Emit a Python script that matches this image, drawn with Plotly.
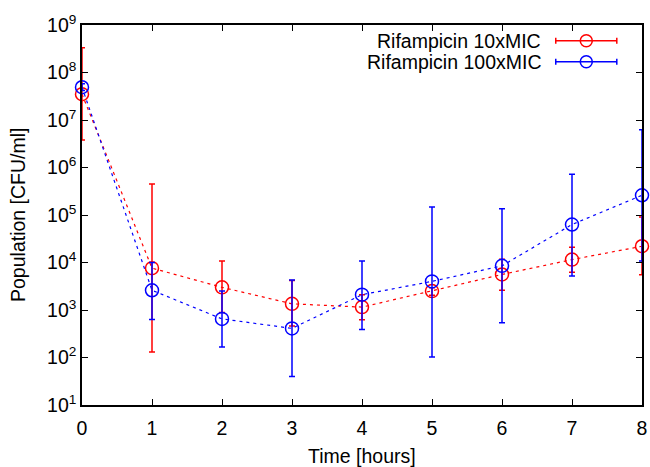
import plotly.graph_objects as go

# ---- data ----
time_h = [0, 1, 2, 3, 4, 5, 6, 7, 8]

rif10_label = "Rifampicin 10xMIC"
rif10_mean = [3.5e7, 7.6e3, 3.0e3, 1.35e3, 1.15e3, 2.5e3, 5.6e3, 1.15e4, 2.2e4]
rif10_upper = [3.3e8, 4.5e5, 1.07e4, 4.2e3, 2.1e3, 2.95e3, 1.17e4, 2.1e4, 9.1e4]
rif10_lower = [3.8e6, 1.3e2, 8.9e2, 4.6e2, 6.2e2, 2.05e3, 2.6e3, 6.2e3, 5.5e3]

rif100_label = "Rifampicin 100xMIC"
rif100_mean = [4.9e7, 2.6e3, 6.5e2, 4.1e2, 2.1e3, 4.0e3, 8.5e3, 6.3e4, 2.6e5]
rif100_upper = [5.8e7, 1.0e4, 2.5e3, 4.3e3, 1.07e4, 1.48e5, 1.35e5, 7.2e5, 6.2e6]
rif100_lower = [4.2e7, 6.3e2, 1.66e2, 40, 3.9e2, 1.02e2, 5.4e2, 5.2e3, 1.07e4]

y_exponents = [1, 2, 3, 4, 5, 6, 7, 8, 9]
x_ticks = [0, 1, 2, 3, 4, 5, 6, 7, 8]

x_title = "Time [hours]"
y_title = "Population [CFU/ml]"

FONT = "Liberation Sans, Arial, Helvetica, sans-serif"
FS = 19.5

series = [
    (rif10_label, rif10_mean, rif10_upper, rif10_lower, "#ff0000"),
    (rif100_label, rif100_mean, rif100_upper, rif100_lower, "#0000ff"),
]

fig = go.Figure()
for name, mean, up, lo, col in series:
    plus = [u - m for u, m in zip(up, mean)]
    minus = [m - l for m, l in zip(mean, lo)]
    fig.add_trace(go.Scatter(
        x=time_h, y=mean, name=name, mode="lines+markers",
        line=dict(color=col, width=1.2, dash="3px,4px"),
        marker=dict(symbol="circle-open", size=13, color=col, line=dict(width=1.5, color=col)),
        error_y=dict(type="data", symmetric=False, array=plus, arrayminus=minus,
                     color=col, thickness=1.5, width=3),
        cliponaxis=False, showlegend=False,
    ))

# legend key (gnuplot style: text on the left, sample with error bar on the right)
leg_rows = [0.9587, 0.9034]
for (name, mean, up, lo, col), yk in zip(series, leg_rows):
    fig.add_trace(go.Scatter(
        x=[0.9005], y=[yk], xaxis="x2", yaxis="y2", mode="markers",
        marker=dict(symbol="circle-open", size=12, color=col, line=dict(width=1.5, color=col)),
        error_x=dict(type="constant", value=0.0545, color=col, thickness=1.5, width=3),
        showlegend=False, hoverinfo="skip", cliponaxis=False,
    ))
    fig.add_annotation(x=0.8227, y=yk, xref="paper", yref="paper", text=name,
                       showarrow=False, xanchor="right", yanchor="middle",
                       font=dict(family=FONT, size=FS, color="black"))

# axis titles
fig.add_annotation(x=0.5, y=-0.134, xref="paper", yref="paper", text=x_title,
                   showarrow=False, xanchor="center", yanchor="middle",
                   font=dict(family=FONT, size=FS, color="black"))
fig.add_annotation(x=-0.1143, y=0.5, xref="paper", yref="paper", text=y_title,
                   showarrow=False, xanchor="center", yanchor="middle", textangle=-90,
                   font=dict(family=FONT, size=FS, color="black"))

axis_common = dict(
    showline=True, linecolor="black", linewidth=1.5, mirror="ticks",
    ticks="inside", ticklen=6, tickwidth=1.2, tickcolor="black",
    showgrid=False, zeroline=False,
    tickfont=dict(family=FONT, size=FS, color="black"),
)

fig.update_layout(
    width=650, height=467,
    margin=dict(l=82, r=8, t=25, b=62),
    paper_bgcolor="white", plot_bgcolor="white",
    font=dict(family=FONT, size=FS, color="black"),
    xaxis=dict(range=[0, 8], tickvals=x_ticks, ticktext=[str(t) for t in x_ticks],
               ticklabelstandoff=5, automargin=False, **axis_common),
    yaxis=dict(type="log", range=[1, 9],
               tickvals=[10 ** k for k in y_exponents],
               ticktext=["10<sup>%d</sup>" % k for k in y_exponents],
               automargin=False, **axis_common),
    xaxis2=dict(overlaying="x", range=[0, 1], visible=False, fixedrange=True),
    yaxis2=dict(overlaying="y", range=[0, 1], visible=False, fixedrange=True),
)

fig.write_html("out.html", config={"displayModeBar": False},
               post_script="document.body.style.margin='0';")
